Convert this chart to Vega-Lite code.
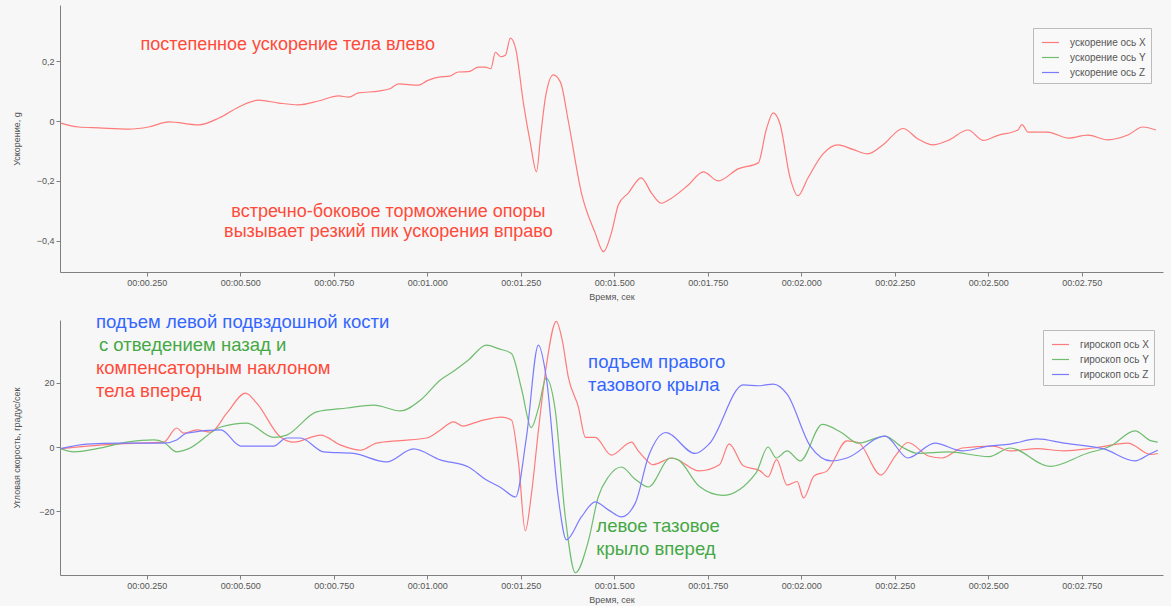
{
  "$schema": "https://vega.github.io/schema/vega-lite/v6.json",
  "background": "#f7f7f7",
  "padding": {"left": 12, "top": 5, "right": 8, "bottom": 2},
  "spacing": 48,
  "bounds": "flush",
  "config": {
    "view": {"stroke": null},
    "font": "Liberation Sans",
    "axis": {
      "grid": false,
      "domainColor": "#808080",
      "tickColor": "#808080",
      "labelColor": "#555555",
      "titleColor": "#555555",
      "labelFontSize": 9,
      "titleFontSize": 9,
      "titleFontWeight": "normal",
      "tickSize": 4,
      "labelPadding": 2
    },
    "legend": {
      "orient": "none",
      "title": null,
      "symbolType": "stroke",
      "symbolSize": 289,
      "symbolStrokeWidth": 1.2,
      "labelFontSize": 10,
      "labelColor": "#555555",
      "strokeColor": "#bbbbbb",
      "fillColor": "#f9f9f9",
      "padding": 5,
      "rowPadding": 0,
      "symbolOffset": 3,
      "labelOffset": 10,
      "labelLimit": 200
    }
  },
  "datasets": {
    "acc": [
      {"series": "ускорение ось X", "t": 0.02, "v": -0.007},
      {"series": "ускорение ось X", "t": 0.068, "v": -0.02},
      {"series": "ускорение ось X", "t": 0.122, "v": -0.023},
      {"series": "ускорение ось X", "t": 0.202, "v": -0.027},
      {"series": "ускорение ось X", "t": 0.255, "v": -0.02},
      {"series": "ускорение ось X", "t": 0.309, "v": -0.003},
      {"series": "ускорение ось X", "t": 0.389, "v": -0.013},
      {"series": "ускорение ось X", "t": 0.443, "v": 0.01},
      {"series": "ускорение ось X", "t": 0.496, "v": 0.047},
      {"series": "ускорение ось X", "t": 0.549, "v": 0.07},
      {"series": "ускорение ось X", "t": 0.603, "v": 0.06},
      {"series": "ускорение ось X", "t": 0.656, "v": 0.054},
      {"series": "ускорение ось X", "t": 0.709, "v": 0.067},
      {"series": "ускорение ось X", "t": 0.763, "v": 0.084},
      {"series": "ускорение ось X", "t": 0.79, "v": 0.08},
      {"series": "ускорение ось X", "t": 0.816, "v": 0.094},
      {"series": "ускорение ось X", "t": 0.87, "v": 0.1},
      {"series": "ускорение ось X", "t": 0.9, "v": 0.108},
      {"series": "ускорение ось X", "t": 0.923, "v": 0.124},
      {"series": "ускорение ось X", "t": 0.976, "v": 0.12},
      {"series": "ускорение ось X", "t": 1.0, "v": 0.135},
      {"series": "ускорение ось X", "t": 1.03, "v": 0.147},
      {"series": "ускорение ось X", "t": 1.06, "v": 0.15},
      {"series": "ускорение ось X", "t": 1.083, "v": 0.164},
      {"series": "ускорение ось X", "t": 1.11, "v": 0.165},
      {"series": "ускорение ось X", "t": 1.137, "v": 0.18},
      {"series": "ускорение ось X", "t": 1.155, "v": 0.18},
      {"series": "ускорение ось X", "t": 1.17, "v": 0.175},
      {"series": "ускорение ось X", "t": 1.182, "v": 0.23},
      {"series": "ускорение ось X", "t": 1.196, "v": 0.215},
      {"series": "ускорение ось X", "t": 1.209, "v": 0.22},
      {"series": "ускорение ось X", "t": 1.222, "v": 0.277},
      {"series": "ускорение ось X", "t": 1.236, "v": 0.244},
      {"series": "ускорение ось X", "t": 1.257, "v": 0.06},
      {"series": "ускорение ось X", "t": 1.275, "v": -0.07},
      {"series": "ускорение ось X", "t": 1.292, "v": -0.17},
      {"series": "ускорение ось X", "t": 1.303, "v": -0.05},
      {"series": "ускорение ось X", "t": 1.316, "v": 0.08},
      {"series": "ускорение ось X", "t": 1.337, "v": 0.154},
      {"series": "ускорение ось X", "t": 1.356, "v": 0.13},
      {"series": "ускорение ось X", "t": 1.377, "v": 0.0},
      {"series": "ускорение ось X", "t": 1.412, "v": -0.24},
      {"series": "ускорение ось X", "t": 1.449, "v": -0.375},
      {"series": "ускорение ось X", "t": 1.471, "v": -0.437},
      {"series": "ускорение ось X", "t": 1.492, "v": -0.375},
      {"series": "ускорение ось X", "t": 1.511, "v": -0.28},
      {"series": "ускорение ось X", "t": 1.538, "v": -0.24},
      {"series": "ускорение ось X", "t": 1.572, "v": -0.19},
      {"series": "ускорение ось X", "t": 1.599, "v": -0.24},
      {"series": "ускорение ось X", "t": 1.626, "v": -0.275},
      {"series": "ускорение ось X", "t": 1.644, "v": -0.265},
      {"series": "ускорение ось X", "t": 1.698, "v": -0.214},
      {"series": "ускорение ось X", "t": 1.738, "v": -0.17},
      {"series": "ускорение ось X", "t": 1.778, "v": -0.2},
      {"series": "ускорение ось X", "t": 1.831, "v": -0.16},
      {"series": "ускорение ось X", "t": 1.885, "v": -0.14},
      {"series": "ускорение ось X", "t": 1.906, "v": -0.03},
      {"series": "ускорение ось X", "t": 1.925, "v": 0.027},
      {"series": "ускорение ось X", "t": 1.943, "v": -0.01},
      {"series": "ускорение ось X", "t": 1.97, "v": -0.19},
      {"series": "ускорение ось X", "t": 1.991, "v": -0.25},
      {"series": "ускорение ось X", "t": 2.018, "v": -0.19},
      {"series": "ускорение ось X", "t": 2.058, "v": -0.11},
      {"series": "ускорение ось X", "t": 2.098, "v": -0.08},
      {"series": "ускорение ось X", "t": 2.138, "v": -0.095},
      {"series": "ускорение ось X", "t": 2.178, "v": -0.11},
      {"series": "ускорение ось X", "t": 2.218, "v": -0.08},
      {"series": "ускорение ось X", "t": 2.272, "v": -0.025},
      {"series": "ускорение ось X", "t": 2.312, "v": -0.06},
      {"series": "ускорение ось X", "t": 2.352, "v": -0.08},
      {"series": "ускорение ось X", "t": 2.392, "v": -0.065},
      {"series": "ускорение ось X", "t": 2.446, "v": -0.03},
      {"series": "ускорение ось X", "t": 2.486, "v": -0.065},
      {"series": "ускорение ось X", "t": 2.526, "v": -0.048},
      {"series": "ускорение ось X", "t": 2.579, "v": -0.03},
      {"series": "ускорение ось X", "t": 2.59, "v": -0.012},
      {"series": "ускорение ось X", "t": 2.606, "v": -0.037},
      {"series": "ускорение ось X", "t": 2.659, "v": -0.037},
      {"series": "ускорение ось X", "t": 2.713, "v": -0.057},
      {"series": "ускорение ось X", "t": 2.766, "v": -0.047},
      {"series": "ускорение ось X", "t": 2.819, "v": -0.063},
      {"series": "ускорение ось X", "t": 2.873, "v": -0.047},
      {"series": "ускорение ось X", "t": 2.913, "v": -0.02},
      {"series": "ускорение ось X", "t": 2.948, "v": -0.03}
    ],
    "gyro": [
      {"series": "гироскоп ось X", "t": 0.02, "v": -0.5},
      {"series": "гироскоп ось X", "t": 0.09, "v": 0.3},
      {"series": "гироскоп ось X", "t": 0.181, "v": 1},
      {"series": "гироскоп ось X", "t": 0.295, "v": 1.5},
      {"series": "гироскоп ось X", "t": 0.33, "v": 5.9},
      {"series": "гироскоп ось X", "t": 0.349, "v": 4.3},
      {"series": "гироскоп ось X", "t": 0.384, "v": 5.3},
      {"series": "гироскоп ось X", "t": 0.421, "v": 4.6},
      {"series": "гироскоп ось X", "t": 0.464, "v": 10.5},
      {"series": "гироскоп ось X", "t": 0.514, "v": 16.7},
      {"series": "гироскоп ось X", "t": 0.544, "v": 13.6},
      {"series": "гироскоп ось X", "t": 0.608, "v": 3},
      {"series": "гироскоп ось X", "t": 0.643, "v": 1.5},
      {"series": "гироскоп ось X", "t": 0.715, "v": 3.7},
      {"series": "гироскоп ось X", "t": 0.768, "v": 0.6},
      {"series": "гироскоп ось X", "t": 0.822, "v": -1},
      {"series": "гироскоп ось X", "t": 0.864, "v": 1.2},
      {"series": "гироскоп ось X", "t": 0.928, "v": 2},
      {"series": "гироскоп ось X", "t": 0.998, "v": 2.8},
      {"series": "гироскоп ось X", "t": 1.035, "v": 5.3},
      {"series": "гироскоп ось X", "t": 1.07, "v": 7.8},
      {"series": "гироскоп ось X", "t": 1.096, "v": 6.5},
      {"series": "гироскоп ось X", "t": 1.123, "v": 7.4},
      {"series": "гироскоп ось X", "t": 1.155, "v": 8.5},
      {"series": "гироскоп ось X", "t": 1.198, "v": 9.3},
      {"series": "гироскоп ось X", "t": 1.225, "v": 8.4},
      {"series": "гироскоп ось X", "t": 1.244, "v": -5},
      {"series": "гироскоп ось X", "t": 1.262, "v": -26},
      {"series": "гироскоп ось X", "t": 1.278, "v": -15},
      {"series": "гироскоп ось X", "t": 1.297, "v": 5},
      {"series": "гироскоп ось X", "t": 1.318, "v": 25},
      {"series": "гироскоп ось X", "t": 1.345, "v": 39},
      {"series": "гироскоп ось X", "t": 1.361, "v": 33},
      {"series": "гироскоп ось X", "t": 1.377, "v": 21.7},
      {"series": "гироскоп ось X", "t": 1.404, "v": 12.4},
      {"series": "гироскоп ось X", "t": 1.423, "v": 3},
      {"series": "гироскоп ось X", "t": 1.449, "v": 3},
      {"series": "гироскоп ось X", "t": 1.492, "v": -2.5},
      {"series": "гироскоп ось X", "t": 1.546, "v": 1.5},
      {"series": "гироскоп ось X", "t": 1.564, "v": -1.2},
      {"series": "гироскоп ось X", "t": 1.591, "v": -4.6},
      {"series": "гироскоп ось X", "t": 1.602, "v": -5.5},
      {"series": "гироскоп ось X", "t": 1.655, "v": -3.4},
      {"series": "гироскоп ось X", "t": 1.727, "v": -7.4},
      {"series": "гироскоп ось X", "t": 1.781, "v": -5.5},
      {"series": "гироскоп ось X", "t": 1.807, "v": 1},
      {"series": "гироскоп ось X", "t": 1.845, "v": -5.8},
      {"series": "гироскоп ось X", "t": 1.89, "v": -7.4},
      {"series": "гироскоп ось X", "t": 1.911, "v": -9.3},
      {"series": "гироскоп ось X", "t": 1.934, "v": -3.9},
      {"series": "гироскоп ось X", "t": 1.962, "v": -11.8},
      {"series": "гироскоп ось X", "t": 1.989, "v": -10.7},
      {"series": "гироскоп ось X", "t": 2.006, "v": -15.8},
      {"series": "гироскоп ось X", "t": 2.034, "v": -9},
      {"series": "гироскоп ось X", "t": 2.069, "v": -7.4},
      {"series": "гироскоп ось X", "t": 2.122, "v": 1.9},
      {"series": "гироскоп ось X", "t": 2.152, "v": 1.4},
      {"series": "гироскоп ось X", "t": 2.213, "v": -8.7},
      {"series": "гироскоп ось X", "t": 2.251, "v": -2.8},
      {"series": "гироскоп ось X", "t": 2.285, "v": 1.4},
      {"series": "гироскоп ось X", "t": 2.34, "v": -2.8},
      {"series": "гироскоп ось X", "t": 2.376, "v": -3.4},
      {"series": "гироскоп ось X", "t": 2.43, "v": -0.3},
      {"series": "гироскоп ось X", "t": 2.513, "v": 0.3},
      {"series": "гироскоп ось X", "t": 2.558, "v": -1.2},
      {"series": "гироскоп ось X", "t": 2.63, "v": -0.5},
      {"series": "гироскоп ось X", "t": 2.702, "v": -1.2},
      {"series": "гироскоп ось X", "t": 2.782, "v": -0.3},
      {"series": "гироскоп ось X", "t": 2.873, "v": 1.2},
      {"series": "гироскоп ось X", "t": 2.934, "v": -2.3},
      {"series": "гироскоп ось X", "t": 2.953, "v": -2},
      {"series": "гироскоп ось Y", "t": 0.02, "v": -0.5},
      {"series": "гироскоп ось Y", "t": 0.055, "v": -1.5},
      {"series": "гироскоп ось Y", "t": 0.117, "v": -0.5},
      {"series": "гироскоп ось Y", "t": 0.197, "v": 1.5},
      {"series": "гироскоп ось Y", "t": 0.269, "v": 2.2},
      {"series": "гироскоп ось Y", "t": 0.295, "v": 1.5},
      {"series": "гироскоп ось Y", "t": 0.33, "v": -1.5},
      {"series": "гироскоп ось Y", "t": 0.362, "v": -0.5},
      {"series": "гироскоп ось Y", "t": 0.448, "v": 6.2},
      {"series": "гироскоп ось Y", "t": 0.517, "v": 7.4},
      {"series": "гироскоп ось Y", "t": 0.589, "v": 3},
      {"series": "гироскоп ось Y", "t": 0.624, "v": 3.7},
      {"series": "гироскоп ось Y", "t": 0.704, "v": 10.9},
      {"series": "гироскоп ось Y", "t": 0.785, "v": 12.1},
      {"series": "гироскоп ось Y", "t": 0.857, "v": 13},
      {"series": "гироскоп ось Y", "t": 0.928, "v": 11.2},
      {"series": "гироскоп ось Y", "t": 0.982, "v": 14.6},
      {"series": "гироскоп ось Y", "t": 1.035, "v": 20.8},
      {"series": "гироскоп ось Y", "t": 1.07, "v": 23.5},
      {"series": "гироскоп ось Y", "t": 1.11, "v": 27},
      {"series": "гироскоп ось Y", "t": 1.158, "v": 31.6},
      {"series": "гироскоп ось Y", "t": 1.19, "v": 30.5},
      {"series": "гироскоп ось Y", "t": 1.225, "v": 29},
      {"series": "гироскоп ось Y", "t": 1.252, "v": 18},
      {"series": "гироскоп ось Y", "t": 1.278, "v": 6},
      {"series": "гироскоп ось Y", "t": 1.297, "v": 12},
      {"series": "гироскоп ось Y", "t": 1.318, "v": 21.4},
      {"series": "гироскоп ось Y", "t": 1.342, "v": 11.5},
      {"series": "гироскоп ось Y", "t": 1.369, "v": -21.7},
      {"series": "гироскоп ось Y", "t": 1.396, "v": -39},
      {"series": "гироскоп ось Y", "t": 1.431, "v": -29},
      {"series": "гироскоп ось Y", "t": 1.457, "v": -15.5},
      {"series": "гироскоп ось Y", "t": 1.484, "v": -9.3},
      {"series": "гироскоп ось Y", "t": 1.519, "v": -6.2},
      {"series": "гироскоп ось Y", "t": 1.556, "v": -10},
      {"series": "гироскоп ось Y", "t": 1.591, "v": -12.4},
      {"series": "гироскоп ось Y", "t": 1.65, "v": -3.4},
      {"series": "гироскоп ось Y", "t": 1.671, "v": -4},
      {"series": "гироскоп ось Y", "t": 1.727, "v": -12.2},
      {"series": "гироскоп ось Y", "t": 1.789, "v": -15},
      {"series": "гироскоп ось Y", "t": 1.879, "v": -8},
      {"series": "гироскоп ось Y", "t": 1.911, "v": 0},
      {"series": "гироскоп ось Y", "t": 1.933, "v": -3.4},
      {"series": "гироскоп ось Y", "t": 1.962, "v": -1.2},
      {"series": "гироскоп ось Y", "t": 1.997, "v": -4.3},
      {"series": "гироскоп ось Y", "t": 2.056, "v": 7},
      {"series": "гироскоп ось Y", "t": 2.107, "v": 4.5},
      {"series": "гироскоп ось Y", "t": 2.152, "v": 1.2},
      {"series": "гироскоп ось Y", "t": 2.224, "v": 3.4},
      {"series": "гироскоп ось Y", "t": 2.269, "v": 0},
      {"series": "гироскоп ось Y", "t": 2.312, "v": -2},
      {"series": "гироскоп ось Y", "t": 2.392, "v": -1.5},
      {"series": "гироскоп ось Y", "t": 2.502, "v": -3},
      {"series": "гироскоп ось Y", "t": 2.558, "v": -0.3},
      {"series": "гироскоп ось Y", "t": 2.665, "v": -6},
      {"series": "гироскоп ось Y", "t": 2.763, "v": -2},
      {"series": "гироскоп ось Y", "t": 2.827, "v": 0.3},
      {"series": "гироскоп ось Y", "t": 2.892, "v": 5},
      {"series": "гироскоп ось Y", "t": 2.934, "v": 2},
      {"series": "гироскоп ось Y", "t": 2.953, "v": 1.5},
      {"series": "гироскоп ось Z", "t": 0.02, "v": -0.5},
      {"series": "гироскоп ось Z", "t": 0.09, "v": 0.9},
      {"series": "гироскоп ось Z", "t": 0.181, "v": 1.2},
      {"series": "гироскоп ось Z", "t": 0.295, "v": 1.2},
      {"series": "гироскоп ось Z", "t": 0.33, "v": 2.2},
      {"series": "гироскоп ось Z", "t": 0.357, "v": 4.3},
      {"series": "гироскоп ось Z", "t": 0.448, "v": 5.3},
      {"series": "гироскоп ось Z", "t": 0.501, "v": 0.3},
      {"series": "гироскоп ось Z", "t": 0.589, "v": 0.3},
      {"series": "гироскоп ось Z", "t": 0.624, "v": 2.8},
      {"series": "гироскоп ось Z", "t": 0.661, "v": 2.8},
      {"series": "гироскоп ось Z", "t": 0.723, "v": -1.5},
      {"series": "гироскоп ось Z", "t": 0.803, "v": -2},
      {"series": "гироскоп ось Z", "t": 0.891, "v": -4.6},
      {"series": "гироскоп ось Z", "t": 0.963, "v": -0.6},
      {"series": "гироскоп ось Z", "t": 1.035, "v": -4},
      {"series": "гироскоп ось Z", "t": 1.11, "v": -6.2},
      {"series": "гироскоп ось Z", "t": 1.155, "v": -10},
      {"series": "гироскоп ось Z", "t": 1.198, "v": -12.7},
      {"series": "гироскоп ось Z", "t": 1.236, "v": -15.5},
      {"series": "гироскоп ось Z", "t": 1.265, "v": 3},
      {"series": "гироскоп ось Z", "t": 1.297, "v": 31.6},
      {"series": "гироскоп ось Z", "t": 1.318, "v": 21.7},
      {"series": "гироскоп ось Z", "t": 1.35, "v": -15.5},
      {"series": "гироскоп ось Z", "t": 1.372, "v": -28.8},
      {"series": "гироскоп ось Z", "t": 1.412, "v": -21.7},
      {"series": "гироскоп ось Z", "t": 1.449, "v": -17},
      {"series": "гироскоп ось Z", "t": 1.484, "v": -19.5},
      {"series": "гироскоп ось Z", "t": 1.519, "v": -21.7},
      {"series": "гироскоп ось Z", "t": 1.556, "v": -17.4},
      {"series": "гироскоп ось Z", "t": 1.591, "v": -3},
      {"series": "гироскоп ось Z", "t": 1.602, "v": 0},
      {"series": "гироскоп ось Z", "t": 1.637, "v": 4.5},
      {"series": "гироскоп ось Z", "t": 1.716, "v": -2},
      {"series": "гироскоп ось Z", "t": 1.754, "v": 1},
      {"series": "гироскоп ось Z", "t": 1.845, "v": 19.3},
      {"series": "гироскоп ось Z", "t": 1.885, "v": 19},
      {"series": "гироскоп ось Z", "t": 1.925, "v": 19.5},
      {"series": "гироскоп ось Z", "t": 1.962, "v": 16.4},
      {"series": "гироскоп ось Z", "t": 2.024, "v": 0.3},
      {"series": "гироскоп ось Z", "t": 2.08, "v": -4.3},
      {"series": "гироскоп ось Z", "t": 2.122, "v": -3.4},
      {"series": "гироскоп ось Z", "t": 2.224, "v": 3.4},
      {"series": "гироскоп ось Z", "t": 2.285, "v": -3.4},
      {"series": "гироскоп ось Z", "t": 2.357, "v": 1.2},
      {"series": "гироскоп ось Z", "t": 2.43, "v": -1.2},
      {"series": "гироскоп ось Z", "t": 2.502, "v": 0.3},
      {"series": "гироскоп ось Z", "t": 2.558, "v": 0.9},
      {"series": "гироскоп ось Z", "t": 2.63, "v": 2.5},
      {"series": "гироскоп ось Z", "t": 2.702, "v": 1.2},
      {"series": "гироскоп ось Z", "t": 2.809, "v": -0.6},
      {"series": "гироскоп ось Z", "t": 2.892, "v": -4.3},
      {"series": "гироскоп ось Z", "t": 2.934, "v": -2},
      {"series": "гироскоп ось Z", "t": 2.953, "v": -1}
    ],
    "notesTop": [
      {"label": "постепенное ускорение тела влево", "t": 0.627, "v": 0.254},
      {"label": "встречно-боковое торможение опоры", "t": 0.896, "v": -0.304},
      {"label": "вызывает резкий пик ускорения вправо", "t": 0.896, "v": -0.371}
    ],
    "notesBottom": [
      {"label": "подъем левой подвздошной кости", "axis": "Z", "t": 0.114, "v": 38.8},
      {"label": "с  отведением назад и", "axis": "Y", "t": 0.122, "v": 31.6},
      {"label": "компенсаторным наклоном", "axis": "X", "t": 0.114, "v": 24.5},
      {"label": "тела вперед", "axis": "X", "t": 0.114, "v": 17.4},
      {"label": "подъем правого", "axis": "Z", "t": 1.43, "v": 26.4},
      {"label": "тазового крыла", "axis": "Z", "t": 1.43, "v": 19.2},
      {"label": "левое тазовое", "axis": "Y", "t": 1.452, "v": -24.5},
      {"label": "крыло вперед", "axis": "Y", "t": 1.452, "v": -31.6}
    ]
  },
  "vconcat": [
    {
      "width": 1103,
      "height": 267,
      "layer": [
        {
          "mark": {"type": "rule", "color": "#cfcfcf", "strokeDash": [2, 2], "strokeWidth": 1},
          "encoding": {"y": {"datum": 0, "type": "quantitative", "scale": {"domain": [-0.505, 0.388], "nice": false, "zero": false}}}
        },
        {
          "data": {"name": "acc"},
          "mark": {"type": "line", "strokeWidth": 1.2, "interpolate": "monotone"},
          "encoding": {
            "x": {
              "field": "t", "type": "quantitative",
              "scale": {"domain": [0.018, 2.967], "nice": false, "zero": false},
              "axis": {
                "values": [0.25, 0.5, 0.75, 1.0, 1.25, 1.5, 1.75, 2.0, 2.25, 2.5, 2.75],
                "labelExpr": "'00:0' + floor(datum.value) + '.' + format(round((datum.value - floor(datum.value)) * 1000), '03d')",
                "title": "Время, сек",
                "titlePadding": 5
              }
            },
            "y": {
              "field": "v", "type": "quantitative",
              "scale": {"domain": [-0.505, 0.388], "nice": false, "zero": false},
              "axis": {
                "values": [-0.4, -0.2, 0, 0.2],
                "labelExpr": "replace(format(datum.value, '.1~f'), '.', ',')",
                "title": "Ускорение, g",
                "minExtent": 35,
                "maxExtent": 35,
                "titlePadding": 4
              }
            },
            "color": {
              "field": "series", "type": "nominal",
              "scale": {"domain": ["ускорение ось X", "ускорение ось Y", "ускорение ось Z"], "range": ["#ff7b7b", "#70bd70", "#7b7bff"]},
              "legend": {"legendX": 973, "legendY": 23}
            }
          }
        },
        {
          "data": {"name": "notesTop"},
          "mark": {"type": "text", "fontSize": 18, "color": "#ff4a3a", "align": "center", "baseline": "middle", "font": "Liberation Sans"},
          "encoding": {
            "x": {"field": "t", "type": "quantitative"},
            "y": {"field": "v", "type": "quantitative"},
            "text": {"field": "label"}
          }
        }
      ]
    },
    {
      "width": 1103,
      "height": 255,
      "resolve": {"scale": {"color": "independent"}},
      "layer": [
        {
          "mark": {"type": "rule", "color": "#cfcfcf", "strokeDash": [2, 2], "strokeWidth": 1},
          "encoding": {"y": {"datum": 0, "type": "quantitative", "scale": {"domain": [-39.7, 39.4], "nice": false, "zero": false}}}
        },
        {
          "data": {"name": "gyro"},
          "mark": {"type": "line", "strokeWidth": 1.2, "interpolate": "monotone"},
          "encoding": {
            "x": {
              "field": "t", "type": "quantitative",
              "scale": {"domain": [0.018, 2.967], "nice": false, "zero": false},
              "axis": {
                "values": [0.25, 0.5, 0.75, 1.0, 1.25, 1.5, 1.75, 2.0, 2.25, 2.5, 2.75],
                "labelExpr": "'00:0' + floor(datum.value) + '.' + format(round((datum.value - floor(datum.value)) * 1000), '03d')",
                "title": "Время, сек",
                "titlePadding": 5
              }
            },
            "y": {
              "field": "v", "type": "quantitative",
              "scale": {"domain": [-39.7, 39.4], "nice": false, "zero": false},
              "axis": {
                "values": [-20, 0, 20],
                "title": "Угловая скорость, градус/сек",
                "minExtent": 35,
                "maxExtent": 35,
                "titlePadding": 4
              }
            },
            "color": {
              "field": "series", "type": "nominal",
              "scale": {"domain": ["гироскоп ось X", "гироскоп ось Y", "гироскоп ось Z"], "range": ["#ff7b7b", "#70bd70", "#7b7bff"]},
              "legend": {"legendX": 983, "legendY": 10}
            }
          }
        },
        {
          "data": {"name": "notesBottom"},
          "mark": {"type": "text", "fontSize": 18.5, "align": "left", "baseline": "middle", "font": "Liberation Sans"},
          "encoding": {
            "x": {"field": "t", "type": "quantitative"},
            "y": {"field": "v", "type": "quantitative"},
            "text": {"field": "label"},
            "color": {
              "field": "axis", "type": "nominal",
              "scale": {"domain": ["X", "Y", "Z"], "range": ["#ff4a3a", "#45a845", "#3366ff"]},
              "legend": null
            }
          }
        }
      ]
    }
  ]
}
